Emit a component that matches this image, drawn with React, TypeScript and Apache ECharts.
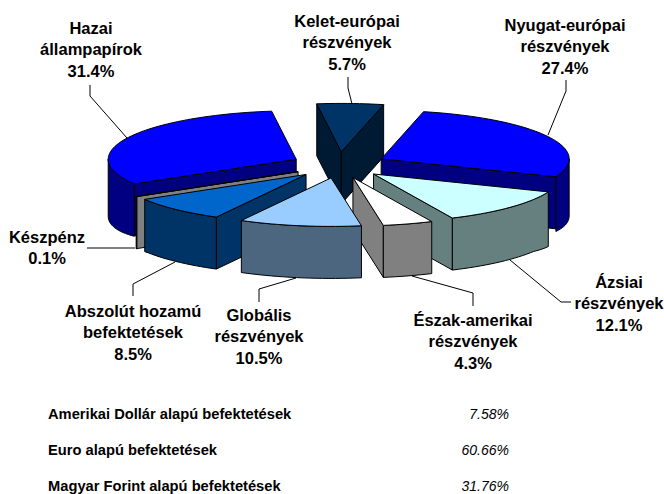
import React, { useEffect, useRef } from "react";
import * as echarts from "echarts";

const categories = [
  "Kelet-európai\nrészvények",
  "Nyugat-európai\nrészvények",
  "Ázsiai\nrészvények",
  "Észak-amerikai\nrészvények",
  "Globális\nrészvények",
  "Abszolút hozamú\nbefektetések",
  "Készpénz",
  "Hazai\nállampapírok",
];
const values = [5.7, 27.4, 12.1, 4.3, 10.5, 8.5, 0.1, 31.4];
const topColors = ["#003366", "#0000FF", "#CCFFFF", "#FFFFFF", "#99CCFF", "#0066CC", "#C0C0C0", "#0000FF"];
const wallColors = ["#001A33", "#000080", "#668080", "#808080", "#4D6680", "#003366", "#808080", "#000080"];
const drawOrder = [0, 7, 1, 6, 5, 2, 3, 4];

const tableNames = ["Amerikai Dollár alapú befektetések", "Euro alapú befektetések", "Magyar Forint alapú befektetések"];
const tableValues = ["7.58%", "60.66%", "31.76%"];

const CX = 339, CY = 165, RX = 188, RY = 48.5, EX = 47.6, EY = 13.1, DEPTH = 52;
const START = -7.5;
const FONT = "Liberation Sans, Arial, sans-serif";

const total = values.reduce((a, b) => a + b, 0);
const rad = (d: number) => (d * Math.PI) / 180;

function slice(i: number) {
  const before = values.slice(0, i).reduce((a, b) => a + b, 0);
  const a0 = START + (before / total) * 360;
  const a1 = a0 + (values[i] / total) * 360;
  const mid = rad((a0 + a1) / 2);
  return { a0, a1, ax: CX + EX * Math.sin(mid), ay: CY - EY * Math.cos(mid) };
}

function renderSlice(params: any) {
  const i = drawOrder[params.dataIndex];
  const { a0, a1, ax, ay } = slice(i);
  const pt = (a: number, dz = 0): number[] => [ax + RX * Math.sin(rad(a)), ay - RY * Math.cos(rad(a)) + dz];
  const arc = (from: number, to: number, bottom = false) => {
    const out: number[][] = [];
    const n = Math.max(2, Math.ceil(Math.abs(to - from) / 2));
    for (let k = 0; k <= n; k++) {
      const a = from + ((to - from) * k) / n;
      const side = Math.max(0, (Math.abs(Math.sin(rad(a))) - 0.85) / 0.15);
      out.push(pt(a, bottom ? DEPTH + 5 * side : 0));
    }
    return out;
  };
  const wallStyle = { fill: wallColors[i], stroke: "#000", lineWidth: 1, lineJoin: "round" };
  const children: any[] = [];
  const wall = (a: number) => {
    const e = pt(a);
    children.push({
      type: "polygon",
      shape: { points: [[ax, ay], e, [e[0], e[1] + DEPTH], [ax, ay + DEPTH]] },
      style: wallStyle,
    });
  };
  if (Math.sin(rad(a0)) < 0) wall(a0);
  if (Math.sin(rad(a1)) > 0) wall(a1);
  const f0 = Math.max(a0, 90), f1 = Math.min(a1, 270);
  if (f1 > f0) {
    children.push({
      type: "polygon",
      shape: { points: [...arc(f0, f1), ...arc(f1, f0, true)] },
      style: wallStyle,
    });
  }
  children.push({
    type: "polygon",
    shape: { points: [[ax, ay], ...arc(a0, a1)] },
    style: { fill: topColors[i], stroke: "#000", lineWidth: 1, lineJoin: "round" },
  });
  return { type: "group", children };
}

const pct = (i: number) => values[i].toFixed(1) + "%";
const LH = 21.4;
const labelAt: [number, number, number][] = [
  [347, 21, 0],
  [565, 25, 1],
  [619, 282, 2],
  [473, 320, 3],
  [259, 315, 4],
  [133, 311, 5],
  [47, 237, 6],
  [91, 28, 7],
];
const leaders: number[][][] = [
  [[348, 77], [348, 88], [352, 104]],
  [[566, 80], [566, 91], [548, 135]],
  [[510, 260], [561, 302], [571, 302]],
  [[412, 276], [473, 293], [473, 306]],
  [[296, 278], [259, 289], [259, 302]],
  [[175, 262], [133, 284], [133, 296]],
  [[87, 248], [135, 248]],
  [[90, 85], [90, 96], [127, 138]],
];

export default function App() {
  const ref = useRef<HTMLDivElement>(null);
  useEffect(() => {
    const chart = echarts.init(ref.current!, undefined, { renderer: "svg" });
    const graphics: any[] = [];
    leaders.forEach((pts) =>
      graphics.push({ type: "polyline", shape: { points: pts }, style: { stroke: "#000", lineWidth: 1, fill: "none" } })
    );
    labelAt.forEach(([x, y, i]) =>
      graphics.push({
        type: "text",
        x,
        y: y - LH / 2,
        style: {
          text: categories[i] + "\n" + pct(i),
          font: `bold 16.5px ${FONT}`,
          lineHeight: LH,
          fill: "#000",
          align: "center",
          verticalAlign: "top",
        },
      })
    );
    tableNames.forEach((t, k) => {
      graphics.push({
        type: "text",
        x: 48,
        y: 414 + k * 36,
        style: { text: t, font: `bold 14.7px ${FONT}`, fill: "#000", align: "left", verticalAlign: "middle" },
      });
      graphics.push({
        type: "text",
        x: 509,
        y: 414 + k * 36,
        style: { text: tableValues[k], font: `italic 14px ${FONT}`, fill: "#000", align: "right", verticalAlign: "middle" },
      });
    });
    chart.setOption({
      animation: false,
      backgroundColor: "#fff",
      series: [
        {
          type: "custom",
          coordinateSystem: "none",
          renderItem: renderSlice,
          data: drawOrder.map((i) => values[i]),
          silent: true,
          z: 2,
        },
      ],
      graphic: graphics,
    });
    return () => chart.dispose();
  }, []);
  return <div ref={ref} style={{ position: "fixed", left: 0, top: 0, width: 664, height: 494 }} />;
}
